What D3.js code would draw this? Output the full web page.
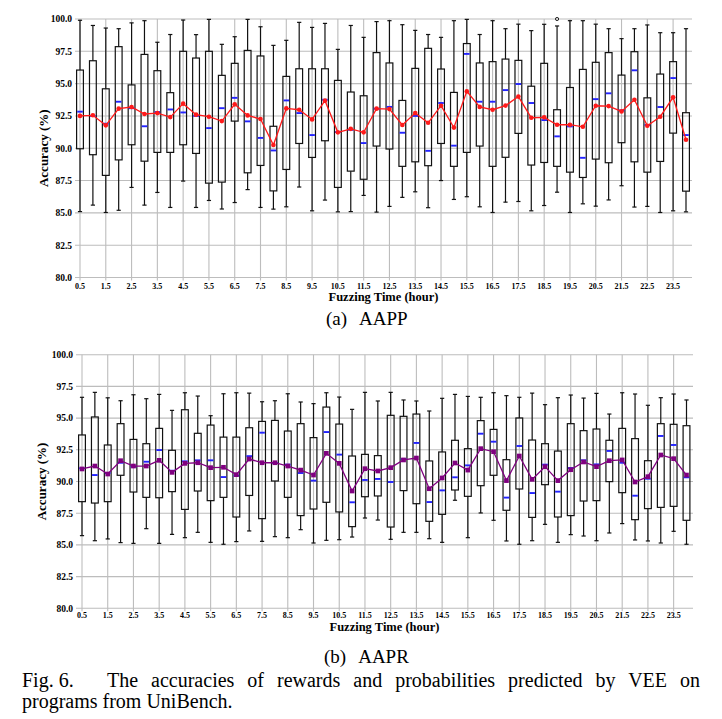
<!DOCTYPE html>
<html>
<head>
<meta charset="utf-8">
<script src="https://cdnjs.cloudflare.com/ajax/libs/d3/7.8.5/d3.min.js"></script>
<style>
body{margin:0;background:#fff}
svg{display:block}
</style>
</head>
<body>
<svg id="svgx"></svg>
<script>
var hours=[0.5,1,1.5,2,2.5,3,3.5,4,4.5,5,5.5,6,6.5,7,7.5,8,8.5,9,9.5,10,10.5,11,11.5,12,
  12.5,13,13.5,14,14.5,15,15.5,16,16.5,17,17.5,18,18.5,19,19.5,20,20.5,21,21.5,22,22.5,23,23.5,24];
var xTicks=[0.5,1.5,2.5,3.5,4.5,5.5,6.5,7.5,8.5,9.5,10.5,11.5,12.5,13.5,14.5,15.5,16.5,17.5,18.5,19.5,20.5,21.5,22.5,23.5];
var yTicks=[80,82.5,85,87.5,90,92.5,95,97.5,100];

// (a) AAPP
var aappHigh=[99.9,99.5,99.3,99.25,99.7,99.87,98.2,98.8,99.92,98.79,99.97,98.04,98.63,99.97,99.4,97.96,98.35,99.74,99.35,99.66,97.65,99.5,98.58,99.8,
  99.87,99.56,99.12,98.8,98.58,99.87,99.97,98.8,99.87,99.25,99.6,99.1,99.59,99.46,99.87,99.87,99.6,99.25,98.48,99.25,99.54,98.94,98.94,99.25];
var aappQ3=[96.05,96.77,94.6,97.86,94.9,97.26,96.0,94.3,97.5,96.98,97.5,95.64,96.57,97.57,97.14,91.7,95.56,96.15,96.15,96.15,95.25,94.35,94.06,97.4,
  96.6,93.7,96.18,97.73,96.13,94.32,98.1,96.6,96.7,96.9,96.8,94.8,96.57,92.98,94.7,96.1,96.65,97.4,95.66,97.47,93.9,95.74,96.7,92.75];
var aappMed=[92.83,92.5,91.9,93.6,93.1,91.7,92.8,93.0,92.77,92.5,91.56,93.1,93.9,92.08,90.8,89.83,93.7,92.72,91.02,93.75,91.25,91.43,90.4,93.06,
  93.2,91.2,92.5,89.8,93.5,90.2,97.3,93.6,93.6,94.5,94.97,93.5,92.18,90.92,91.69,89.26,93.8,94.25,92.93,96.03,91.8,93.19,95.43,91.02];
var aappQ1=[89.96,89.5,87.9,89.1,90.27,89.0,89.68,89.68,90.27,89.6,87.3,87.38,92.1,88.1,88.67,86.7,88.36,90.37,89.29,90.58,86.97,88.23,87.6,90.17,
  89.94,88.6,88.95,88.65,90.37,88.6,89.68,90.17,88.6,89.3,91.15,88.7,88.9,88.6,88.15,87.74,89.16,88.88,90.43,88.95,88.15,88.98,91.17,86.68];
var aappLow=[85.1,85.6,85.03,85.2,86.97,85.6,86.58,85.42,87.46,85.42,85.96,85.3,85.8,86.8,85.42,85.29,85.47,87.0,85.16,85.99,85.08,85.1,86.35,85.06,
  85.5,86.2,86.63,85.4,87.5,86.04,86.25,85.47,85.03,85.83,85.88,85.16,85.57,86.6,85.03,85.7,85.52,86.0,87.1,85.45,85.5,85.03,85.16,85.08];
var aappMean=[92.5,92.55,91.77,93.06,93.19,92.65,92.72,92.41,93.45,92.6,92.44,92.1,93.4,92.54,92.26,90.25,93.08,92.98,92.23,93.68,91.23,91.5,91.23,93.06,
  93.03,91.8,92.72,91.97,93.29,91.6,94.4,93.2,92.98,93.3,94.0,92.36,92.39,91.82,91.82,91.66,93.29,93.26,92.85,93.75,91.74,92.44,93.94,90.66];
var aappFlierHour=[19];
var aappFlierValue=[100];

// (b) AAPR
var aaprHigh=[96.64,97.03,96.6,96.37,96.84,96.53,96.87,95.61,97.0,96.74,95.19,96.92,97.0,96.97,96.29,96.37,96.92,96.27,96.14,97.0,96.66,95.69,97.03,96.35,
  97.03,96.43,96.35,95.56,96.56,96.87,96.71,96.64,97.0,96.77,96.64,96.97,96.06,96.61,96.82,96.58,96.95,95.32,97.0,96.9,96.01,96.61,96.9,96.43];
var aaprQ3=[93.67,95.09,92.88,94.56,93.32,92.98,94.19,92.46,95.66,93.8,94.45,93.5,93.5,94.24,94.74,94.82,93.98,94.56,93.46,95.87,94.53,92.01,92.14,92.04,
  95.22,95.14,95.32,91.62,92.33,93.25,92.59,94.8,94.11,91.72,95.01,93.27,92.98,92.4,94.56,94.01,94.14,93.25,94.19,93.38,91.64,94.56,94.51,94.4];
var aaprMed=[91.04,90.51,90.67,91.48,91.17,91.56,92.48,90.85,91.59,91.67,91.67,90.35,90.46,92.0,93.85,91.46,91.33,90.67,90.07,93.9,92.12,88.36,90.12,90.2,
  89.96,91.77,93.04,88.38,89.3,90.33,91.27,93.77,93.14,88.73,92.8,89.09,91.33,89.2,91.06,91.67,91.35,92.41,91.48,88.88,90.22,93.59,92.88,90.33];
var aaprQ1=[88.41,88.3,88.41,90.49,89.17,88.75,88.72,89.2,87.8,89.25,88.49,88.75,87.2,88.9,87.07,90.04,88.75,87.31,87.83,88.36,87.6,86.44,88.8,88.86,
  86.41,89.28,88.25,86.86,87.41,89.33,88.83,89.67,90.49,87.73,89.41,87.17,89.75,87.2,87.31,88.46,88.49,89.99,89.12,86.99,87.86,87.96,88.04,86.94];
var aaprLow=[85.73,85.33,85.47,85.18,85.12,86.28,85.12,85.83,85.57,85.99,85.2,85.05,85.26,86.1,85.28,85.65,85.57,86.2,85.15,85.36,85.41,85.62,87.12,86.96,
  85.44,85.99,85.99,85.49,85.2,88.52,85.57,87.52,86.94,85.31,85.05,85.33,86.62,85.2,85.81,85.7,85.33,85.94,86.68,85.39,85.31,85.15,86.07,85.05];
var aaprMean=[90.99,91.22,90.59,91.64,91.22,91.22,91.67,90.72,91.43,91.48,91.09,91.12,90.54,91.77,91.48,91.48,91.22,90.9,90.51,92.22,91.43,89.25,91.01,90.83,
  91.09,91.7,91.85,89.43,90.28,91.46,90.9,92.59,92.35,90.07,92.01,90.17,91.17,90.07,90.93,91.54,91.17,91.64,91.7,89.96,90.38,92.09,91.8,90.51];

var widthA=722, heightA=719;
var boxW=6.8, capW=4.2;

var svg=d3.select('#svgx')
  .attr('width',widthA)
  .attr('height',heightA);
svg.append('rect').attr('width',widthA).attr('height',heightA).attr('fill','#fff');

// find a Times-like face that is really installed
function pickFont(list){
  var t=svg.append('text').style('font-size','40px').text('The accuracies 0123456789 Fuzzing');
  t.style('font-family','monospace');
  var base=t.node().getComputedTextLength();
  var found=null;
  for(var i=0;i<list.length;i++){
    t.style('font-family',`"${list[i]}",monospace`);
    if(Math.abs(t.node().getComputedTextLength()-base)>0.5){found=list[i];break;}
  }
  t.remove();
  return found;
}
var face=pickFont(['Liberation Serif','Tinos','Times New Roman','Nimbus Roman','Nimbus Roman No9 L','FreeSerif','DejaVu Serif Condensed']);
var serif=face? `"${face}",serif` : 'serif';
var wide=(face==='DejaVu Serif Condensed'||!face);
var fs=wide? 0.86:1;

function plotPanel(cfg){
  var x=d3.scaleLinear().domain([0.5,24]).range([cfg.x0,cfg.x1]);
  var y=d3.scaleLinear().domain([80,100]).range([cfg.yBottom,cfg.yTop]);
  var g=svg.append('g').attr('class',cfg.name);

  var rows=hours.map((h,i)=>({h:h,high:cfg.high[i],q3:cfg.q3[i],med:cfg.med[i],q1:cfg.q1[i],low:cfg.low[i],mean:cfg.mean[i]}));

  // grid
  g.append('g').selectAll('line').data(yTicks).enter().append('line')
    .attr('x1',cfg.left).attr('x2',cfg.right)
    .attr('y1',d=>y(d)).attr('y2',d=>y(d))
    .attr('stroke','#bdbdbd').attr('stroke-width',1.1);
  g.append('g').selectAll('line').data(xTicks).enter().append('line')
    .attr('x1',d=>x(d)).attr('x2',d=>x(d))
    .attr('y1',cfg.yTop).attr('y2',cfg.yBottom+3)
    .attr('stroke','#bdbdbd').attr('stroke-width',1.1);

  // y tick labels
  g.append('g').selectAll('text').data(yTicks).enter().append('text')
    .attr('x',cfg.left-3).attr('y',d=>y(d)).attr('dy','.35em')
    .attr('text-anchor','end')
    .style('font-family',serif).style('font-weight',700).style('font-size',(9.5*fs)+'px')
    .text(d3.format('.1f'));

  // x tick labels
  g.append('g').selectAll('text').data(xTicks).enter().append('text')
    .attr('x',d=>x(d)).attr('y',cfg.tickY)
    .attr('text-anchor','middle')
    .style('font-family',serif).style('font-weight',700).style('font-size',(8*fs)+'px')
    .text(d=>d3.format('.1f')(d));

  g.append('text')
    .attr('x',(cfg.left+cfg.right)/2).attr('y',cfg.titleY)
    .attr('text-anchor','middle')
    .style('font-family',serif).style('font-weight',700).style('font-size',(12.5*fs)+'px')
    .text('Fuzzing Time (hour)');

  g.append('text')
    .attr('transform',`translate(${cfg.yLabelX},${(cfg.yTop+cfg.yBottom)/2}) rotate(-90)`)
    .attr('text-anchor','middle').attr('dy','.35em')
    .style('font-family',serif).style('font-weight',700).style('font-size',(13*fs)+'px')
    .text('Accuracy (%)');

  // boxes
  var bx=g.append('g').selectAll('.box').data(rows).enter().append('g').attr('class','box');
  bx.append('line')
    .attr('x1',d=>x(d.h)).attr('x2',d=>x(d.h))
    .attr('y1',d=>y(d.high)).attr('y2',d=>y(d.q3))
    .attr('stroke','#111').attr('stroke-width',1.2);
  bx.append('line')
    .attr('x1',d=>x(d.h)).attr('x2',d=>x(d.h))
    .attr('y1',d=>y(d.q1)).attr('y2',d=>y(d.low))
    .attr('stroke','#111').attr('stroke-width',1.2);
  bx.append('line')
    .attr('x1',d=>x(d.h)-capW/2).attr('x2',d=>x(d.h)+capW/2)
    .attr('y1',d=>y(d.high)).attr('y2',d=>y(d.high))
    .attr('stroke','#111').attr('stroke-width',1.2);
  bx.append('line')
    .attr('x1',d=>x(d.h)-capW/2).attr('x2',d=>x(d.h)+capW/2)
    .attr('y1',d=>y(d.low)).attr('y2',d=>y(d.low))
    .attr('stroke','#111').attr('stroke-width',1.2);
  bx.append('rect')
    .attr('x',d=>x(d.h)-boxW/2).attr('width',boxW)
    .attr('y',d=>y(d.q3)).attr('height',d=>y(d.q1)-y(d.q3))
    .attr('fill','none').attr('stroke','#111').attr('stroke-width',1.2);
  bx.append('line')
    .attr('x1',d=>x(d.h)-boxW/2+0.6).attr('x2',d=>x(d.h)+boxW/2-0.6)
    .attr('y1',d=>y(d.med)).attr('y2',d=>y(d.med))
    .attr('stroke','#2323ff').attr('stroke-width',1.9);

  if(cfg.flierHour){
    g.append('g').selectAll('circle').data(cfg.flierHour).enter().append('circle')
      .attr('cx',d=>x(d)).attr('cy',(d,i)=>y(cfg.flierValue[i]))
      .attr('r',1.6).attr('fill','none').attr('stroke','#111').attr('stroke-width',0.9);
  }

  // mean line
  var line=d3.line().x(d=>x(d.h)).y(d=>y(d.mean));
  g.append('path').datum(rows)
    .attr('d',line).attr('fill','none')
    .attr('stroke',cfg.meanColor).attr('stroke-width',1.3);
  g.append('g').selectAll('path').data(rows).enter().append('path')
    .attr('transform',d=>`translate(${x(d.h)},${y(d.mean)})`)
    .attr('d',d3.symbol().type(cfg.symbol).size(cfg.symbolSize))
    .attr('fill',cfg.meanColor);

  // sub caption
  var cap=g.append('text')
    .attr('x',cfg.capX).attr('y',cfg.capY)
    .style('font-family',serif).style('font-size',(19*fs)+'px');
  cap.append('tspan').text(cfg.capTag);
  cap.append('tspan').attr('dx',12).text(cfg.capName);
}

plotPanel({name:'aapp',high:aappHigh,q3:aappQ3,med:aappMed,q1:aappQ1,low:aappLow,mean:aappMean,
  flierHour:aappFlierHour,flierValue:aappFlierValue,
  x0:80,x1:686,left:75,right:692,yTop:19,yBottom:277.5,tickY:288.5,titleY:300.5,yLabelX:43,
  meanColor:'#ff1a1a',symbol:d3.symbolCircle,symbolSize:17,
  capX:326,capY:325,capTag:'(a)',capName:'AAPP'});

plotPanel({name:'aapr',high:aaprHigh,q3:aaprQ3,med:aaprMed,q1:aaprQ1,low:aaprLow,mean:aaprMean,
  x0:82,x1:686.5,left:76,right:693,yTop:354.7,yBottom:608.3,tickY:618,titleY:630.5,yLabelX:41,
  meanColor:'#800080',symbol:d3.symbolSquare,symbolSize:22,
  capX:324,capY:663,capTag:'(b)',capName:'AAPR'});

// figure caption, justified to the column width with word spacing
var capFs=20*fs;
svg.append('text')
  .attr('x',22).attr('y',687)
  .style('font-family',serif).style('font-size',capFs+'px')
  .text('Fig. 6.');
var capLine='The accuracies of rewards and probabilities predicted by VEE on';
var l1=svg.append('text')
  .attr('x',107).attr('y',687)
  .style('font-family',serif).style('font-size',capFs+'px')
  .text(capLine);
var natural=l1.node().getComputedTextLength();
var gaps=capLine.split(' ').length-1;
if(natural<593){
  l1.style('word-spacing',((593-natural)/gaps)+'px');
}else{
  l1.attr('textLength',593).attr('lengthAdjust','spacingAndGlyphs');
}
svg.append('text')
  .attr('x',22).attr('y',708)
  .style('font-family',serif).style('font-size',capFs+'px')
  .text('programs from UniBench.');
</script>
</body>
</html>
